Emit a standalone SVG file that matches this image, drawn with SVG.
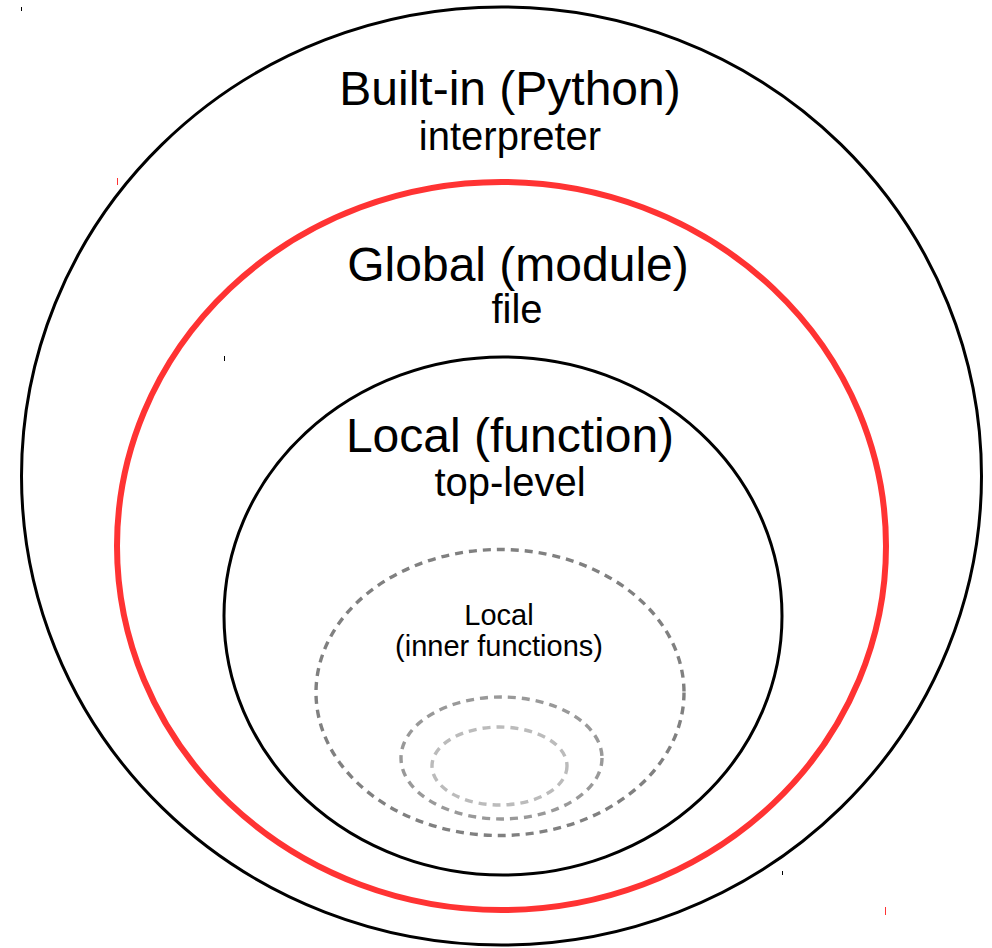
<svg xmlns="http://www.w3.org/2000/svg" width="992" height="948" viewBox="0 0 992 948">
  <style>
    .scope { fill: none; }
    .black { stroke: #000; stroke-width: 3; }
    .red { stroke: #ff3333; stroke-width: 6; }
    .inner { stroke-width: 3.4; stroke-dasharray: 8 6; }
    .title { font-family: "Liberation Sans", Arial, sans-serif; font-size: 48px; fill: #000; text-anchor: middle; }
    .sub { font-family: "Liberation Sans", Arial, sans-serif; font-size: 40px; fill: #000; text-anchor: middle; }
    .small { font-family: "Liberation Sans", Arial, sans-serif; font-size: 29px; fill: #000; text-anchor: middle; }
    .tick { stroke-width: 1; }
  </style>
  <rect width="992" height="948" fill="#fff"/>

  <!-- corner ticks left by the ellipse bounding boxes -->
  <g id="ticks">
    <line class="tick" x1="21.5" y1="7" x2="21.5" y2="11" stroke="#000"/>
    <line class="tick" x1="117.5" y1="178" x2="117.5" y2="185" stroke="#ff3333"/>
    <line class="tick" x1="224.5" y1="356" x2="224.5" y2="361" stroke="#000"/>
    <line class="tick" x1="782.5" y1="871" x2="782.5" y2="875" stroke="#000"/>
    <line class="tick" x1="885.5" y1="907" x2="885.5" y2="915" stroke="#ff3333"/>
  </g>

  <g id="builtin">
    <ellipse class="scope black" cx="501.5" cy="476" rx="480" ry="469"/>
    <text class="title" x="510" y="105">Built-in (Python)</text>
    <text class="sub" x="510" y="150">interpreter</text>
  </g>

  <g id="global">
    <ellipse class="scope red" cx="501.5" cy="546" rx="384.5" ry="364"/>
    <text class="title" x="518" y="281">Global (module)</text>
    <text class="sub" x="517" y="323">file</text>
  </g>

  <g id="local">
    <ellipse class="scope black" cx="503" cy="616" rx="279" ry="259"/>
    <text class="title" x="510" y="452">Local (function)</text>
    <text class="sub" x="510" y="496">top-level</text>
  </g>

  <g id="inner1">
    <ellipse class="scope inner" stroke="#808080" cx="500" cy="692.5" rx="184" ry="143"/>
    <text class="small" x="499" y="625">Local</text>
    <text class="small" x="499" y="656">(inner functions)</text>
  </g>

  <g id="inner2">
    <ellipse class="scope inner" stroke="#999" cx="501.5" cy="758" rx="100.5" ry="61"/>
  </g>

  <g id="inner3">
    <ellipse class="scope inner" stroke="#bbb" cx="499.5" cy="766" rx="67.5" ry="39"/>
  </g>
</svg>
